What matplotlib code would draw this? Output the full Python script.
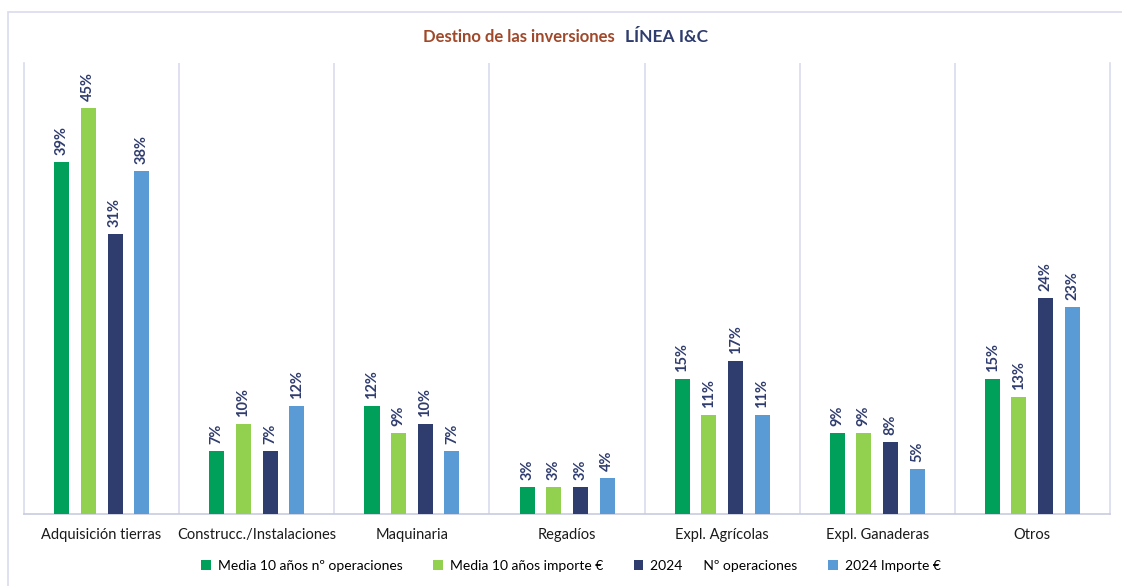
import matplotlib
matplotlib.use("Agg")
import matplotlib.pyplot as plt
import numpy as np
from matplotlib.patches import Rectangle

plt.rcParams['font.family'] = ['Lato', 'DejaVu Sans']

# datos ---------------------------------
categorias = ["Adquisición tierras", "Construcc./Instalaciones", "Maquinaria", "Regadíos",
              "Expl. Agrícolas", "Expl. Ganaderas", "Otros"]
media_ops = [39, 7, 12, 3, 15, 9, 15]
media_importe = [45, 10, 9, 3, 11, 9, 13]
ops_2024 = [31, 7, 10, 3, 17, 8, 24]
importe_2024 = [38, 12, 7, 4, 11, 5, 23]
series = ["Media 10 años nº operaciones", "Media 10 años importe €",
          "2024      Nº operaciones", "2024 Importe €"]
colores = ["#00A05A", "#92D050", "#2F3C6E", "#5B9BD5"]

valores = [media_ops, media_importe, ops_2024, importe_2024]
navy = "#2F3C6E"
grid_c = "#D9DCEE"

fig = plt.figure(figsize=(11.22, 5.86), dpi=100)
ax = fig.add_axes([24/1122, 1 - 514/586, (1110 - 24)/1122, (514 - 63)/586])

# marco exterior
fig.patches.append(Rectangle((8/1122, -0.05), 1.1, 1 - 12/586 + 0.05, transform=fig.transFigure,
                             fill=False, edgecolor="#D9DCEE", linewidth=1.2))

x = np.arange(len(categorias))
offsets = [-0.257, -0.087, 0.087, 0.258]
ancho = 0.097
for vals, off, c, nombre in zip(valores, offsets, colores, series):
    bars = ax.bar(x + off, vals, ancho, color=c, label=nombre, zorder=3)
    for b, v in zip(bars, vals):
        ax.annotate(f"{v}%", (b.get_x() + b.get_width()/2, v), xytext=(0, 5),
                    textcoords="offset points", rotation=90, ha="center", va="bottom",
                    fontsize=10.5, fontweight="bold", color=navy)

ax.set_xlim(-0.5, len(categorias) - 0.5)
ax.set_ylim(0, 50)
ax.set_yticks([])
ax.set_xticks(x)
ax.set_xticklabels(categorias, fontsize=10.5, color="#1a1a1a")
ax.tick_params(axis="x", length=0, pad=10)
for xb in np.arange(0.5, len(categorias) - 0.5, 1):
    ax.axvline(xb, color=grid_c, linewidth=1.2, zorder=1)
for s in ["left", "right"]:
    ax.spines[s].set_color(grid_c)
    ax.spines[s].set_linewidth(1.2)
ax.spines["top"].set_visible(False)
ax.spines["bottom"].set_color("#C8CCE0")
ax.spines["bottom"].set_linewidth(1.2)

# titulo en dos colores
fig.text(615/1122, 1 - 37/586, "Destino de las inversiones", ha="right", va="center",
         fontsize=12, fontweight="bold", color="#A0482A")
fig.text(625/1122, 1 - 37/586, "LÍNEA I&C", ha="left", va="center",
         fontsize=12.5, fontweight="bold", color=navy)

fig.legend(loc="center", bbox_to_anchor=(571/1122, 1 - 566/586), ncol=4, frameon=False,
           fontsize=10, handlelength=0.7, handleheight=0.7, columnspacing=2.2, handletextpad=0.5)

fig.savefig("out.png", dpi=100)
